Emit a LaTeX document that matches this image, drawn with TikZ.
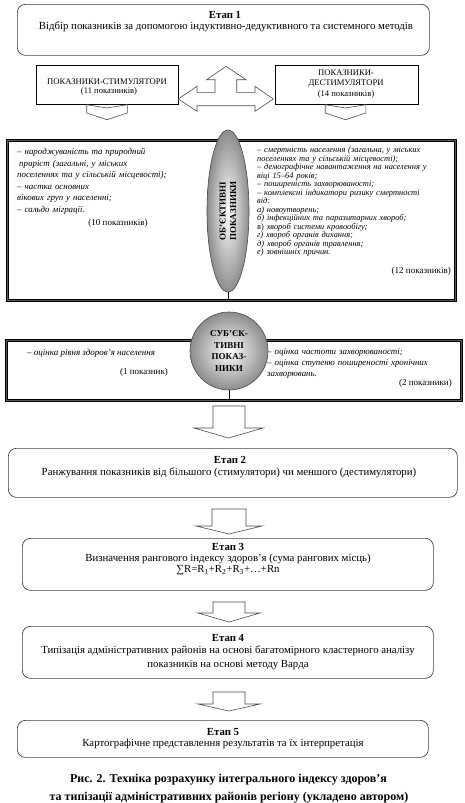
\documentclass[tikz,border=0pt]{standalone}
\usepackage{fontspec}
\setmainfont{Liberation Serif}
\usetikzlibrary{shapes.geometric}
\tikzset{
  etapbox/.style={draw=black!75, line width=0.7pt, rounded corners=8pt, fill=white, inner sep=0pt, anchor=north west},
  plainbox/.style={draw=black, line width=0.6pt, inner sep=0pt, anchor=north west},
  framebox/.style={draw=black, line width=0.6pt, double=black!65, double distance=1.6pt, inner sep=0pt, anchor=north west},
  blockarrow/.style={draw=black!70, line width=0.6pt, fill=white, line join=miter},
  txt/.style={inner sep=0pt, anchor=base, font=\fontsize{10.8}{12}\selectfont},
  hd/.style={inner sep=0pt, anchor=base, font=\bfseries\fontsize{10.8}{12}\selectfont},
  itblock/.style={inner sep=0pt, anchor=base west, align=left, font=\itshape\fontsize{8.4}{8.5}\selectfont},
  sm/.style={inner sep=0pt, anchor=base, font=\fontsize{8.6}{9.5}\selectfont},
  num/.style={inner sep=0pt, font=\fontsize{9}{11}\selectfont},
  captxt/.style={inner sep=0pt, anchor=base, font=\bfseries\fontsize{12}{14}\selectfont},
  shaded/.style={draw=black!70, line width=0.6pt, inner color=white, outer color=black!45},
}
\begin{document}
\begin{tikzpicture}[x=1pt,y=-1pt]
\useasboundingbox (0,0) rectangle (465,803);
\fill[white] (0,0) rectangle (465,803);

% Etap 1
\node[etapbox, minimum width=412pt, minimum height=51pt] (e1) at (17,4) {};
\node[hd] (e1a) at (225,18.5) {Етап 1};
\node[txt] (e1b) at (226,29) {Відбір показників за допомогою індуктивно-дедуктивного та системного методів};

% stimulators / destimulators
\node[plainbox, minimum width=142pt, minimum height=39pt] (stim) at (36,65) {};
\node[sm] (stima) at (107,84.5) {ПОКАЗНИКИ-СТИМУЛЯТОРИ};
\node[sm] (stimb) at (109,93) {(11 показників)};
\node[plainbox, minimum width=143pt, minimum height=39pt] (dest) at (275,65) {};
\node[sm] (desta) at (346,75.5) {ПОКАЗНИКИ-};
\node[sm] (destb) at (346,85.5) {ДЕСТИМУЛЯТОРИ};
\node[sm] (destc) at (346,96.5) {(14 показників)};

% triple arrow
\draw[blockarrow] (178.3,99) -- (197,86.3) -- (197,92.3) -- (215,92.3) -- (215,79.7) -- (206.7,79.7)
  -- (226,66.3) -- (246,79.7) -- (236.7,79.7) -- (236.7,92.3) -- (255,92.3) -- (255,86.3)
  -- (273.3,99) -- (255,111.3) -- (255,105.7) -- (197,105.7) -- (197,111.3) -- cycle;

% small chevrons
\draw[blockarrow] (86.7,104.7) -- (107,108) -- (127.3,104.7) -- (127.3,113) -- (107,119.7) -- (86.7,113) -- cycle;
\draw[blockarrow] (325.2,104.7) -- (345.5,108) -- (365.8,104.7) -- (365.8,113) -- (345.5,119.7) -- (325.2,113) -- cycle;

% objective block
\node[framebox, minimum width=448pt, minimum height=160pt] (obj) at (7,140) {};
\coordinate (objbot) at (228,300);
\node[itblock, text width=200pt, font=\itshape\fontsize{8.9}{11.6}\selectfont] (objL) at (17,154.5) {%
– народжуваність та природний\\
\hspace*{2pt}приріст (загальні, у міських\\
поселеннях та у сільській місцевості);\\
– частка основних\\
вікових груп у населенні;\\
– сальдо міграції.};
\node[num, anchor=base] (objLn) at (118,225.5) {(10 показників)};
\node[itblock, text width=200pt] (objR) at (257,152.5) {%
– смертність населення (загальна, у міських\\
поселеннях та у сільській місцевості);\\
– демографічне навантаження на населення у\\
віці 15–64 років;\\
– поширеність захворюваності;\\
– комплексні індикатори ризику смертності\\
від:\\
а) новоутворень;\\
б) інфекційних та паразитарних хвороб;\\
{\upshape в)} хвороб системи кровообігу;\\
г) хвороб органів дихання;\\
д) хвороб органів травлення;\\
е) зовнішніх причин.};
\node[num, anchor=base east] (objRn) at (451,273.5) {(12 показників)};
\node[ellipse, shaded, minimum width=42pt, minimum height=162pt] (ell) at (228,211) {};
\draw[line width=0.8pt] (ell.south) -- (objbot);
\node[inner sep=0pt, rotate=90, align=center, font=\bfseries\fontsize{9}{10.5}\selectfont] (ellt) at (ell.center) {ОБ’ЄКТИВНІ\\ПОКАЗНИКИ};

% subjective block
\node[framebox, minimum width=455pt, minimum height=60pt] (sub) at (6,340) {};
\coordinate (subbot) at (229,400);
\node[itblock, font=\itshape\fontsize{9}{10}\selectfont] (subL) at (27,355) {– оцінка рівня здоров’я населення};
\node[num, anchor=base] (subLn) at (144,374.5) {(1 показник)};
\node[itblock, text width=190pt, font=\itshape\fontsize{8.9}{11.2}\selectfont] (subR) at (267,354) {%
– оцінка частоти захворюваності;\\
– оцінка ступеню поширеності хронічних\\
захворювань.};
\node[num, anchor=base east] (subRn) at (452,385) {(2 показники)};
\node[circle, shaded, minimum size=78pt] (circ) at (229,351) {};
\draw[line width=0.8pt] (circ.south) -- (subbot);
\node[inner sep=0pt, text width=70pt, align=center, font=\bfseries\fontsize{9}{11.7}\selectfont, anchor=base] (circt) at (229,336.5) {СУБ’ЄК-\\ТИВНІ\\ПОКАЗ-\\НИКИ};

% arrow to etap 2
\draw[blockarrow] (213,406) -- (245,406) -- (245,428) -- (263,428) -- (228.5,438) -- (194,428) -- (213,428) -- cycle;

% Etap 2
\node[etapbox, minimum width=449pt, minimum height=49pt] (e2) at (8,448) {};
\node[hd] (e2a) at (230,463.5) {Етап 2};
\node[txt] (e2b) at (229,475.5) {Ранжування показників від більшого (стимулятори) чи меншого (дестимулятори)};

\draw[blockarrow] (212,509) -- (246,509) -- (246,526) -- (262,526) -- (229,534) -- (196,526) -- (212,526) -- cycle;

% Etap 3
\node[etapbox, minimum width=411pt, minimum height=52pt] (e3) at (22,538) {};
\node[hd] (e3a) at (228,550.5) {Етап 3};
\node[txt] (e3b) at (228,561.5) {Визначення рангового індексу здоров’я (сума рангових місць)};
\node[txt] (e3c) at (228,572.5) {∑R=R\textsubscript{1}+R\textsubscript{2}+R\textsubscript{3}+…+Rn};

\draw[blockarrow] (213,602) -- (245,602) -- (245,613) -- (260,613) -- (229,622) -- (198,613) -- (213,613) -- cycle;

% Etap 4
\node[etapbox, minimum width=411pt, minimum height=52pt] (e4) at (22,626) {};
\node[hd] (e4a) at (228,641.5) {Етап 4};
\node[txt] (e4b) at (228,653.5) {Типізація адміністративних районів на основі багатомірного кластерного аналізу};
\node[txt] (e4c) at (228,667.5) {показників на основі методу Варда};

\draw[blockarrow] (213,692) -- (245,692) -- (245,704) -- (260,704) -- (229,711) -- (198,704) -- (213,704) -- cycle;

% Etap 5
\node[etapbox, minimum width=411pt, minimum height=37pt] (e5) at (17,720) {};
\node[hd] (e5a) at (223,735) {Етап 5};
\node[txt] (e5b) at (223,746) {Картографічне представлення результатів та їх інтерпретація};

% caption
\node[captxt] (c1) at (228.5,782) {Рис. 2. Техніка розрахунку інтегрального індексу здоров'я};
\node[captxt] (c2) at (229,800) {та типізації адміністративних районів регіону (укладено автором)};
\end{tikzpicture}
\end{document}
